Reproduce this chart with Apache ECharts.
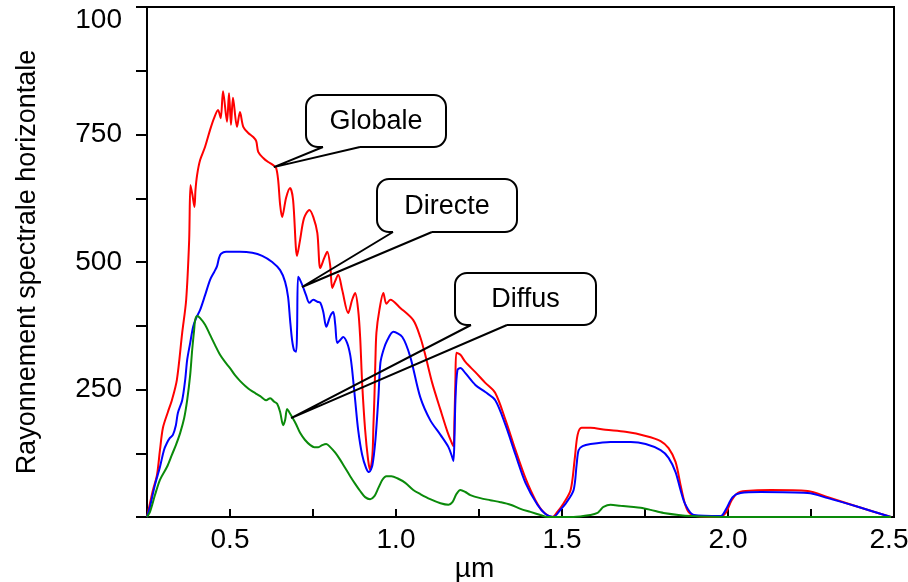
<!DOCTYPE html>
<html>
<head>
<meta charset="utf-8">
<script src="https://cdn.jsdelivr.net/npm/echarts@6/dist/echarts.min.js"></script>
<style>
  html, body { margin: 0; padding: 0; background: #fff; }
  #main { width: 908px; height: 582px; }
</style>
</head>
<body>
<div id="main"></div>
<script>
// longueur d'onde (µm) / rayonnement
const globaleX = [0.250, 0.259, 0.268, 0.280, 0.289, 0.298, 0.313, 0.325, 0.340, 0.356,
  0.368, 0.377, 0.381, 0.387, 0.393, 0.396, 0.401, 0.410, 0.425, 0.440,
  0.452, 0.464, 0.472, 0.479, 0.491, 0.497, 0.503, 0.509, 0.521, 0.530,
  0.540, 0.555, 0.570, 0.579, 0.585, 0.600, 0.615, 0.630, 0.639, 0.645,
  0.651, 0.657, 0.669, 0.681, 0.690, 0.702, 0.711, 0.723, 0.739, 0.751,
  0.763, 0.772, 0.784, 0.793, 0.802, 0.808, 0.817, 0.826, 0.838, 0.856,
  0.868, 0.877, 0.886, 0.892, 0.898, 0.907, 0.916, 0.922, 0.929, 0.932,
  0.935, 0.938, 0.941, 0.950, 0.962, 0.971, 0.983, 1.013, 1.052, 1.073,
  1.088, 1.109, 1.134, 1.155, 1.167, 1.173, 1.176, 1.179, 1.182, 1.194,
  1.209, 1.239, 1.269, 1.299, 1.330, 1.360, 1.390, 1.420, 1.444, 1.471,
  1.486, 1.505, 1.526, 1.538, 1.547, 1.559, 1.586, 1.631, 1.691, 1.752,
  1.797, 1.821, 1.842, 1.857, 1.869, 1.881, 1.903, 1.972, 1.993, 2.011,
  2.029, 2.053, 2.129, 2.240, 2.301, 2.391, 2.491]
const globaleY = [0, 27, 53, 82, 131, 175, 206, 229, 269, 361,
  426, 543, 651, 631, 608, 641, 671, 700, 726, 759,
  782, 798, 782, 835, 775, 831, 769, 822, 765, 794,
  765, 753, 745, 737, 716, 704, 696, 690, 684, 661,
  612, 588, 626, 645, 622, 512, 543, 586, 602, 588,
  557, 488, 508, 520, 492, 449, 463, 475, 445, 400,
  426, 439, 406, 353, 263, 171, 112, 92, 122, 180,
  235, 308, 361, 406, 439, 418, 426, 410, 386, 353,
  318, 263, 210, 167, 147, 139, 190, 269, 322, 318,
  304, 284, 263, 243, 190, 131, 76, 33, 10, 0,
  10, 27, 53, 112, 161, 175, 175, 171, 167, 159,
  149, 135, 108, 63, 29, 10, 2, 0, 8, 33,
  47, 51, 53, 51, 39, 20, 0]

const directeX = [0.250, 0.259, 0.274, 0.289, 0.301, 0.310, 0.319, 0.328, 0.337, 0.343,
  0.356, 0.365, 0.371, 0.380, 0.389, 0.398, 0.410, 0.425, 0.440, 0.452,
  0.461, 0.467, 0.473, 0.488, 0.530, 0.567, 0.597, 0.627, 0.651, 0.666,
  0.675, 0.681, 0.687, 0.693, 0.699, 0.702, 0.705, 0.711, 0.720, 0.729,
  0.739, 0.751, 0.763, 0.772, 0.781, 0.790, 0.802, 0.811, 0.817, 0.823,
  0.832, 0.841, 0.853, 0.862, 0.868, 0.877, 0.886, 0.898, 0.910, 0.919,
  0.929, 0.938, 0.947, 0.953, 0.962, 0.974, 0.992, 1.019, 1.043, 1.073,
  1.103, 1.134, 1.158, 1.170, 1.173, 1.176, 1.179, 1.185, 1.194, 1.209,
  1.239, 1.269, 1.299, 1.330, 1.360, 1.390, 1.426, 1.450, 1.474, 1.495,
  1.514, 1.535, 1.544, 1.550, 1.562, 1.586, 1.646, 1.707, 1.752, 1.797,
  1.821, 1.842, 1.857, 1.872, 1.897, 1.978, 1.993, 2.014, 2.038, 2.099,
  2.240, 2.301, 2.391, 2.491]
const directeY = [0, 20, 63, 98, 131, 145, 155, 161, 180, 204,
  229, 269, 308, 341, 373, 390, 406, 435, 465, 480,
  492, 508, 516, 520, 520, 518, 512, 500, 484, 461,
  431, 386, 347, 327, 324, 367, 471, 465, 451, 435,
  420, 426, 422, 420, 402, 373, 394, 402, 377, 341,
  347, 353, 341, 318, 288, 229, 171, 122, 96, 88,
  102, 151, 235, 302, 327, 347, 363, 353, 314, 235,
  190, 161, 137, 116, 110, 151, 229, 288, 292, 282,
  259, 245, 229, 180, 122, 67, 24, 6, 0, 14,
  29, 53, 102, 131, 139, 143, 147, 147, 143, 131,
  116, 88, 53, 24, 4, 2, 14, 39, 47, 49,
  47, 37, 20, 0]

const diffusX = [0.250, 0.259, 0.274, 0.289, 0.310, 0.325, 0.337, 0.350, 0.362, 0.371,
  0.380, 0.386, 0.392, 0.395, 0.401, 0.410, 0.425, 0.440, 0.455, 0.470,
  0.485, 0.500, 0.515, 0.530, 0.546, 0.561, 0.576, 0.591, 0.609, 0.621,
  0.633, 0.642, 0.651, 0.660, 0.666, 0.672, 0.678, 0.687, 0.699, 0.711,
  0.726, 0.742, 0.754, 0.766, 0.778, 0.790, 0.802, 0.817, 0.832, 0.847,
  0.862, 0.877, 0.892, 0.907, 0.922, 0.935, 0.947, 0.959, 0.971, 0.986,
  1.004, 1.028, 1.052, 1.073, 1.103, 1.134, 1.158, 1.170, 1.182, 1.194,
  1.209, 1.224, 1.254, 1.284, 1.315, 1.345, 1.375, 1.405, 1.435, 1.456,
  1.535, 1.586, 1.607, 1.616, 1.625, 1.646, 1.676, 1.707, 1.737, 1.767,
  1.806, 1.888, 2.038, 2.491]
const diffusY = [0, 10, 43, 73, 98, 122, 141, 165, 194, 229,
  278, 327, 367, 386, 394, 390, 377, 357, 337, 318,
  304, 292, 278, 267, 257, 249, 243, 237, 229, 233,
  226, 222, 206, 180, 190, 212, 206, 196, 182, 165,
  151, 141, 137, 137, 141, 143, 137, 126, 112, 96,
  80, 65, 51, 39, 35, 41, 57, 73, 80, 80,
  76, 67, 53, 45, 35, 27, 24, 29, 45, 53,
  49, 43, 37, 33, 29, 24, 16, 10, 4, 0,
  0, 4, 8, 14, 20, 24, 22, 20, 18, 14,
  8, 2, 0, 0]

// graduations
const xTickLabels = ['', '0.5', '', '1.0', '', '1.5', '', '2.0', '', '2.5']
const yTickLabels = ['', '', '250', '', '500', '', '750', '', '100']

// bulles : texte et point visé sur la courbe
const calloutNames = ['Globale', 'Directe', 'Diffus']
const calloutTipX = [0.632, 0.717, 0.684]
const calloutTipY = [686, 451, 194]

const font = "'Liberation Sans', Arial, sans-serif"
const chart = echarts.init(document.getElementById('main'))

function pairs (xs, ys) {
  return xs.map(function (x, i) { return [x, ys[i]] })
}

function curve (name, color, xs, ys) {
  return {
    name: name,
    type: 'line',
    data: pairs(xs, ys),
    smooth: 0.3,
    symbol: 'none',
    lineStyle: { color: color, width: 2 },
    itemStyle: { color: color }
  }
}

chart.setOption({
  animation: false,
  textStyle: { fontFamily: font },
  grid: {
    left: 147, right: 14, top: 7, bottom: 65,
    outerBoundsMode: 'none',
    show: true, borderColor: '#000', borderWidth: 2
  },
  xAxis: {
    type: 'value',
    min: 0.25,
    max: 2.5,
    interval: 0.25,
    name: 'µm',
    nameLocation: 'middle',
    nameGap: 38,
    nameMoveOverlap: false,
    nameTextStyle: { color: '#000', fontSize: 28, fontFamily: font, padding: [0, 92, 0, 0] },
    axisLine: { lineStyle: { color: '#000', width: 2 } },
    axisTick: { inside: true, length: 8, lineStyle: { color: '#000', width: 2 } },
    axisLabel: {
      color: '#000',
      fontSize: 28,
      fontFamily: font,
      margin: 9,
      formatter: function (v) {
        const t = xTickLabels[Math.round(v / 0.25) - 1] || ''
        return v === 2.5 ? '{end|' + t + '}' : t
      },
      rich: { end: { fontSize: 28, fontFamily: font, color: '#000', padding: [0, 10, 0, 0] } }
    },
    splitLine: { show: false }
  },
  yAxis: {
    type: 'value',
    min: 0,
    max: 1000,
    interval: 125,
    name: 'Rayonnement spectrale horizontale',
    nameLocation: 'middle',
    nameGap: 106,
    nameMoveOverlap: false,
    nameRotate: 90,
    nameTextStyle: { color: '#000', fontSize: 27, fontFamily: font },
    axisLine: { lineStyle: { color: '#000', width: 2 } },
    axisTick: { length: 11, lineStyle: { color: '#000', width: 2 } },
    axisLabel: {
      color: '#000',
      fontSize: 28,
      fontFamily: font,
      margin: 25,
      formatter: function (v) {
        const t = yTickLabels[Math.round(v / 125)] || ''
        return v === 1000 ? '{top|' + t + '}' : t
      },
      rich: { top: { fontSize: 28, fontFamily: font, color: '#000', padding: [26, 0, 0, 0] } }
    },
    splitLine: { show: false }
  },
  series: [
    curve('Globale', '#ff0000', globaleX, globaleY),
    curve('Directe', '#0000ff', directeX, directeY),
    curve('Diffus', '#0a8a0a', diffusX, diffusY)
  ]
})

// boites des bulles (pixels) : x0, y0, x1, y1, base gauche/droite de la pointe
const boxes = [
  [306, 95, 446, 147, 323, 360],
  [377, 179, 517, 232, 393, 432],
  [455, 273, 596, 325, 471, 507]
]

const elements = []
calloutNames.forEach(function (name, i) {
  const tip = chart.convertToPixel({ gridIndex: 0 }, [calloutTipX[i], calloutTipY[i]])
  const b = boxes[i]
  elements.push({
    type: 'rect',
    z: 100,
    shape: { x: b[0], y: b[1], width: b[2] - b[0], height: b[3] - b[1], r: 12 },
    style: { fill: '#fff', stroke: '#000', lineWidth: 2 }
  })
  elements.push({
    type: 'line',
    z: 101,
    shape: { x1: b[4], y1: b[3], x2: b[5], y2: b[3] },
    style: { stroke: '#fff', lineWidth: 4 }
  })
  elements.push({
    type: 'polyline',
    z: 102,
    shape: { points: [[b[5], b[3]], tip, [b[4], b[3]]] },
    style: { fill: null, stroke: '#000', lineWidth: 2 }
  })
  elements.push({
    type: 'text',
    z: 103,
    x: (b[0] + b[2]) / 2,
    y: (b[1] + b[3]) / 2 + 1,
    style: { text: name, fill: '#000', font: '27px ' + font, align: 'center', verticalAlign: 'middle' }
  })
})
chart.setOption({ graphic: { elements: elements } })
</script>
</body>
</html>
